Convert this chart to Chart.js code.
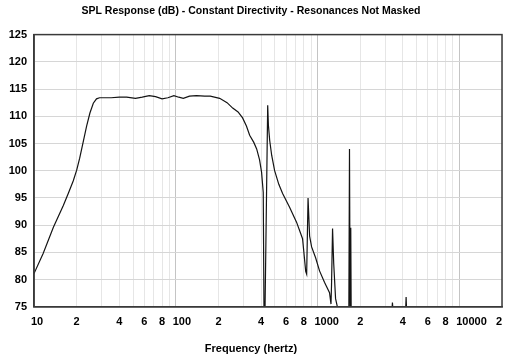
<!DOCTYPE html>
<html>
<head>
<meta charset="utf-8">
<script src="https://cdn.jsdelivr.net/npm/chart.js@4"></script>
<style>
  body { margin: 0; background: #fff; }
</style>
</head>
<body>
<canvas id="splChart" width="512" height="358"></canvas>
<script>
// Frequency response (log frequency axis)
const freqHz = [
  10, 11.6, 13.7, 16.1, 17.5, 18.9, 20, 21, 22.2, 23.5, 24.8, 26.2, 27.6, 29, 31,
  35, 40, 45, 52, 58, 65, 72, 80, 88, 97, 105, 113, 125, 140, 160, 175,
  204, 230, 252, 275, 296, 315, 332, 355, 372, 390, 403, 414, 420,
  423, 445, 450, 460, 475, 498, 533, 567, 635, 712, 784, 825, 838, 857, 879,
  908, 969, 1033, 1119, 1215, 1244, 1255, 1276, 1300, 1340, 1380, 1420,
  1660, 1680, 1700, 1715, 1730, 3300, 3375, 3450, 4150, 4214, 4280, 20000
];
const splDb = [
  81.1, 84.8, 89.6, 93.6, 95.9, 98.1, 100.1, 102.3, 105.2, 108.2, 110.6, 112.4, 113.2, 113.4, 113.4,
  113.4, 113.5, 113.5, 113.3, 113.5, 113.8, 113.6, 113.2, 113.4, 113.8, 113.5, 113.3, 113.7, 113.8, 113.7, 113.7,
  113.3, 112.5, 111.5, 110.8, 109.7, 108.2, 106.5, 105.2, 104.0, 102.0, 99.7, 96.0, 70.0,
  68.0, 112.0, 108.4, 105.5, 102.8, 100.0, 97.5, 95.8, 93.3, 90.5, 87.5, 81.5, 81.0, 95.0, 88.0,
  86.0, 84.0, 81.6, 79.5, 77.6, 75.5, 79.0, 89.4, 83.0, 76.5, 75.0, 72.0,
  70.0, 104.0, 70.0, 89.5, 70.0, 72.0, 75.8, 72.0, 72.0, 76.8, 72.0, 60.0
];

// Axis ticks; decade labels carry leading spaces so their first "1" sits on the tick
const freqTicks = [
  10, 20, 30, 40, 50, 60, 70, 80, 90,
  100, 200, 300, 400, 500, 600, 700, 800, 900,
  1000, 2000, 3000, 4000, 5000, 6000, 7000, 8000, 9000,
  10000, 20000
];
const freqTickLabels = [
  '  10', '2', '', '4', '', '6', '', '8', '',
  '    100', '2', '', '4', '', '6', '', '8', '',
  '      1000', '2', '', '4', '', '6', '', '8', '',
  '        10000', '2  '
];
const dbTicks = [75, 80, 85, 90, 95, 100, 105, 110, 115, 120, 125];

const labelFont = { family: 'Liberation Sans', size: 11, weight: 'bold' };

// draws the box round the plot area
const frame = {
  id: 'frame',
  afterDraw(chart) {
    const a = chart.chartArea, c = chart.ctx;
    c.save();
    c.strokeStyle = '#3a3a3a';
    c.lineWidth = 1.5;
    c.strokeRect(a.left, a.top, a.right - a.left, a.bottom - a.top);
    c.restore();
  }
};

const ctx = document.getElementById('splChart').getContext('2d');
new Chart(ctx, {
  type: 'line',
  data: {
    datasets: [{
      data: freqHz.map((f, i) => ({ x: f, y: splDb[i] })),
      borderColor: '#141414',
      borderWidth: 1.2,
      pointRadius: 0,
      tension: 0,
      fill: false
    }]
  },
  options: {
    responsive: false,
    animation: false,
    devicePixelRatio: 1,
    layout: { padding: { left: 0, right: 10, top: 0, bottom: 0 } },
    plugins: {
      legend: { display: false },
      tooltip: { enabled: false },
      title: {
        display: true,
        text: 'SPL Response (dB) - Constant Directivity - Resonances Not Masked',
        color: '#000',
        font: { family: 'Liberation Sans', size: 10.5, weight: 'bold' },
        padding: { top: 5, bottom: 17 }
      },
      subtitle: {
        display: true,
        position: 'bottom',
        text: 'Frequency (hertz)',
        color: '#000',
        font: labelFont,
        padding: { top: 6, bottom: 2 }
      }
    },
    scales: {
      x: {
        type: 'logarithmic',
        min: 10,
        max: 20000,
        afterBuildTicks: (scale) => {
          scale.ticks = freqTicks.map(v => ({ value: v }));
        },
        afterFit: (scale) => {
          scale.height = 30;
          scale.paddingLeft = 0;
          scale.paddingRight = 0;
        },
        ticks: {
          autoSkip: false,
          maxRotation: 0,
          padding: 9,
          color: '#000',
          font: labelFont,
          callback: (v, i) => freqTickLabels[i]
        },
        grid: {
          drawTicks: false,
          color: (c) => {
            const v = c.tick ? c.tick.value : 0;
            return Number.isInteger(Math.log10(v)) ? '#c4c4c4' : '#e6e6e6';
          }
        },
        border: { color: '#3a3a3a', width: 1.5 }
      },
      y: {
        min: 75,
        max: 125,
        afterBuildTicks: (scale) => {
          scale.ticks = dbTicks.map(v => ({ value: v }));
        },
        afterFit: (scale) => { scale.width = 34; },
        ticks: {
          padding: 7,
          color: '#000',
          font: labelFont
        },
        grid: { drawTicks: false, color: '#d6d6d6' },
        border: { color: '#3a3a3a', width: 1.5 }
      }
    }
  },
  plugins: [frame]
});
</script>
</body>
</html>
